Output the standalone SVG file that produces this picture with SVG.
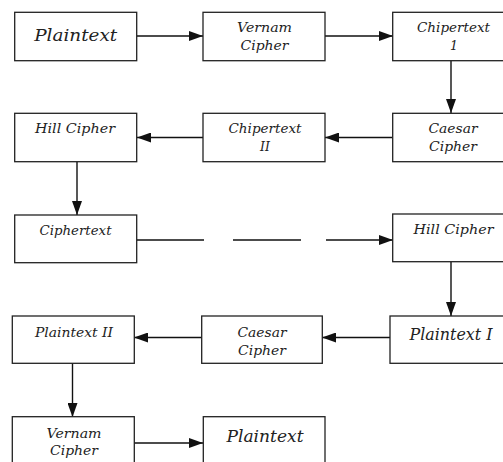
<svg xmlns="http://www.w3.org/2000/svg" width="503" height="462" viewBox="0 0 503 462">
<style>
.box{fill:#fff;stroke:#222;stroke-width:1.3}
.t{font-family:"DejaVu Serif","Liberation Serif",serif;font-style:italic;font-size:12.5px;fill:#222;text-anchor:middle}
.L{font-size:17px}
.c{stroke:#111;stroke-width:1.4;fill:none}
</style>
<defs>
<marker id="ah" markerWidth="14" markerHeight="10" refX="14" refY="5" orient="auto" markerUnits="userSpaceOnUse">
<path d="M0,0 L14,5 L0,10 Z" fill="#111"/>
</marker>
</defs>
<g id="connectors">
<line class="c" x1="137" y1="36" x2="203" y2="36" marker-end="url(#ah)"/>
<line class="c" x1="325" y1="36" x2="393" y2="36" marker-end="url(#ah)"/>
<line class="c" x1="451" y1="61" x2="451" y2="113" marker-end="url(#ah)"/>
<line class="c" x1="392" y1="137.5" x2="325" y2="137.5" marker-end="url(#ah)"/>
<line class="c" x1="203" y1="137.5" x2="137" y2="137.5" marker-end="url(#ah)"/>
<line class="c" x1="77" y1="162" x2="77" y2="215" marker-end="url(#ah)"/>
<line class="c" x1="137" y1="240" x2="204" y2="240"/>
<line class="c" x1="233" y1="240" x2="301" y2="240"/>
<line class="c" x1="326" y1="240" x2="393" y2="240" marker-end="url(#ah)"/>
<line class="c" x1="451" y1="262" x2="451" y2="316" marker-end="url(#ah)"/>
<line class="c" x1="390" y1="337.5" x2="322" y2="337.5" marker-end="url(#ah)"/>
<line class="c" x1="202" y1="337.5" x2="134" y2="337.5" marker-end="url(#ah)"/>
<line class="c" x1="72.5" y1="363" x2="72.5" y2="417" marker-end="url(#ah)"/>
<line class="c" x1="134" y1="443" x2="203" y2="443" marker-end="url(#ah)"/>
</g>
<g id="n1"><rect class="box" x="14.7" y="12.3" width="122" height="48.4"/><text class="t L" x="75.7" y="41" textLength="83" lengthAdjust="spacingAndGlyphs">Plaintext</text></g>
<g id="n2"><rect class="box" x="203" y="12.3" width="122" height="48.4"/><text class="t" x="264.5" y="32" textLength="55" lengthAdjust="spacingAndGlyphs">Vernam</text><text class="t" x="264.5" y="50" textLength="48" lengthAdjust="spacingAndGlyphs">Cipher</text></g>
<g id="n3"><rect class="box" x="392.7" y="12.3" width="122" height="48.4"/><text class="t" x="453.5" y="32" textLength="73" lengthAdjust="spacingAndGlyphs">Chipertext</text><text class="t" x="454" y="50">1</text></g>
<g id="n4"><rect class="box" x="392.7" y="113.3" width="122" height="48.4"/><text class="t" x="453" y="133" textLength="49" lengthAdjust="spacingAndGlyphs">Caesar</text><text class="t" x="453" y="151" textLength="48" lengthAdjust="spacingAndGlyphs">Cipher</text></g>
<g id="n5"><rect class="box" x="203" y="113.3" width="122" height="48.4"/><text class="t" x="265" y="133" textLength="73" lengthAdjust="spacingAndGlyphs">Chipertext</text><text class="t" x="265" y="151">II</text></g>
<g id="n6"><rect class="box" x="14.7" y="113.3" width="122" height="48.4"/><text class="t" x="75" y="133" textLength="80" lengthAdjust="spacingAndGlyphs">Hill Cipher</text></g>
<g id="n7"><rect class="box" x="14.7" y="215" width="122" height="47.7"/><text class="t" x="75.5" y="235" textLength="72" lengthAdjust="spacingAndGlyphs">Ciphertext</text></g>
<g id="n8"><rect class="box" x="392.7" y="214" width="122" height="47.7"/><text class="t" x="453.5" y="233.5" textLength="80" lengthAdjust="spacingAndGlyphs">Hill Cipher</text></g>
<g id="n9"><rect class="box" x="390" y="316" width="122" height="47.3"/><text class="t L" x="451" y="339.5" textLength="83" lengthAdjust="spacingAndGlyphs">Plaintext I</text></g>
<g id="n10"><rect class="box" x="201.7" y="316" width="120.6" height="47.3"/><text class="t" x="262" y="337" textLength="49" lengthAdjust="spacingAndGlyphs">Caesar</text><text class="t" x="262" y="354.5" textLength="48" lengthAdjust="spacingAndGlyphs">Cipher</text></g>
<g id="n11"><rect class="box" x="12.3" y="316" width="122" height="47.3"/><text class="t" x="74" y="337" textLength="78" lengthAdjust="spacingAndGlyphs">Plaintext II</text></g>
<g id="n12"><rect class="box" x="12.3" y="416.7" width="122" height="60"/><text class="t" x="74" y="437.5" textLength="55" lengthAdjust="spacingAndGlyphs">Vernam</text><text class="t" x="74" y="455" textLength="48" lengthAdjust="spacingAndGlyphs">Cipher</text></g>
<g id="n13"><rect class="box" x="203.3" y="416.7" width="121.7" height="60"/><text class="t L" x="265" y="442" textLength="77" lengthAdjust="spacingAndGlyphs">Plaintext</text></g>
</svg>
